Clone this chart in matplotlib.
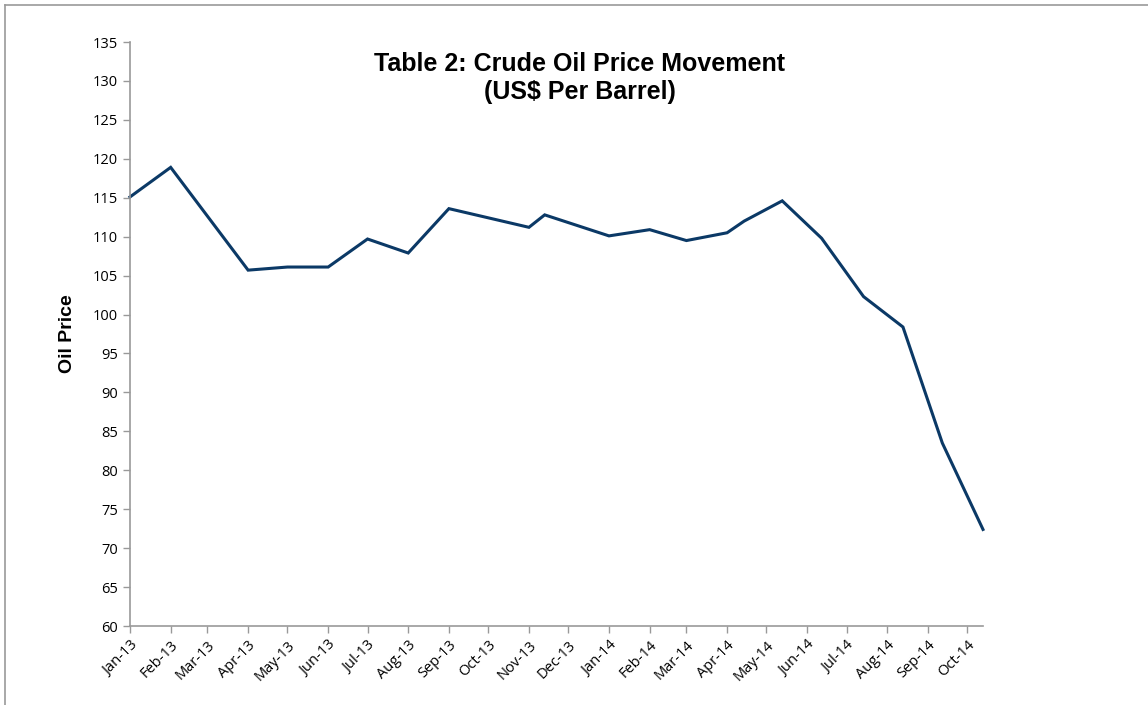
import numpy as np
import pandas as pd
import matplotlib
matplotlib.use("Agg")
import matplotlib.pyplot as plt
import matplotlib.dates as mdates
from matplotlib.lines import Line2D
from matplotlib import font_manager

# data
dates = ["2013-01-01", "2013-02-01", "2013-04-01", "2013-05-01", "2013-06-01",
         "2013-07-01", "2013-08-01", "2013-09-01", "2013-11-01", "2013-11-13",
         "2014-01-01", "2014-02-01", "2014-03-01", "2014-04-01", "2014-04-14",
         "2014-05-13", "2014-06-12", "2014-07-14", "2014-08-13", "2014-09-12",
         "2014-10-13"]
prices = [115.1, 118.9, 105.7, 106.1, 106.1,
          109.7, 107.9, 113.6, 111.2, 112.8,
          110.1, 110.9, 109.5, 110.5, 112.0,
          114.6, 109.8, 102.3, 98.4, 83.5,
          72.4]
tick_months = pd.date_range("2013-01-01", "2014-10-01", freq="MS")

title = "Table 2: Crude Oil Price Movement\n(US$ Per Barrel)"
ylabel = "Oil Price"

names = {f.name for f in font_manager.fontManager.ttflist}
narrow = "Liberation Sans Narrow" if "Liberation Sans Narrow" in names else "Liberation Sans"

W, H = 1148, 705
fig = plt.figure(figsize=(W / 100, H / 100), dpi=100)
ax = fig.add_axes([130 / W, 1 - 626 / H, (983 - 130) / W, (626 - 42) / H])

x = pd.to_datetime(dates)
ax.plot(x, prices, color="#0B3966", lw=2.2, solid_joinstyle="miter", clip_on=False)

ax.set_ylim(60, 135)
ax.set_yticks(np.arange(60, 136, 5))
ax.set_xlim(pd.Timestamp("2013-01-01"), pd.Timestamp("2014-10-13"))
ax.set_xticks(tick_months)
ax.xaxis.set_major_formatter(mdates.DateFormatter("%b-%y"))

for s in ["top", "right"]:
    ax.spines[s].set_visible(False)
for s in ["left", "bottom"]:
    ax.spines[s].set_color("#999999")
    ax.spines[s].set_linewidth(1.2)
ax.tick_params(axis="both", colors="#999999", length=5, width=1.0,
               labelcolor="black", labelsize=10.5)
for lab in ax.get_yticklabels() + ax.get_xticklabels():
    lab.set_family("Open Sans")
plt.setp(ax.get_xticklabels(), rotation=45, ha="right", rotation_mode="anchor")

ax.set_ylabel(ylabel, family=narrow, fontweight="bold", fontsize=14, labelpad=12)

fig.text(580 / W, 1 - 78 / H, title, ha="center", va="center", family=narrow,
         fontweight="bold", fontsize=18, linespacing=1.25)

# chart frame (only left and top edges visible)
fig.add_artist(Line2D([5 / W, 5 / W], [0, 1 - 5 / H], transform=fig.transFigure,
                      color="#999999", lw=1.2))
fig.add_artist(Line2D([5 / W, 1], [1 - 5 / H, 1 - 5 / H], transform=fig.transFigure,
                      color="#999999", lw=1.2))

fig.savefig("out.png", dpi=100)
